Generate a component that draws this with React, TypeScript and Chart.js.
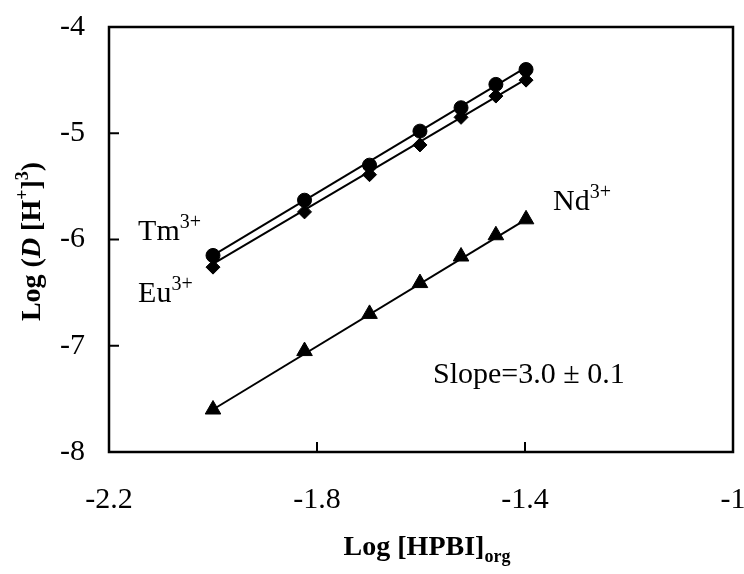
import React, { useEffect, useRef } from "react";
import { Chart, registerables } from "chart.js";

Chart.register(...registerables);

// Data
const xValues = [-2.0, -1.824, -1.699, -1.602, -1.523, -1.456, -1.398];
const tmValues = [-6.15, -5.63, -5.30, -4.98, -4.76, -4.54, -4.40];
const euValues = [-6.26, -5.74, -5.39, -5.11, -4.85, -4.65, -4.50];
const ndValues = [-7.60, -7.05, -6.70, -6.41, -6.16, -5.96, -5.81];

// Fitted straight lines (end points)
const fitX = [-2.0, -1.398];
const tmFit = [-6.15, -4.38];
const euFit = [-6.23, -4.49];
const ndFit = [-7.60, -5.81];

const xTicks = [-2.2, -1.8, -1.4, -1];
const yTicks = [-8, -7, -6, -5, -4];

const SERIF = '"Liberation Serif", "Times New Roman", serif';

type Part = { text: string; font: string; dy?: number };

function partsWidth(ctx: CanvasRenderingContext2D, parts: Part[]) {
  let w = 0;
  for (const p of parts) {
    ctx.font = p.font;
    w += ctx.measureText(p.text).width;
  }
  return w;
}

function drawParts(ctx: CanvasRenderingContext2D, parts: Part[], x: number, y: number) {
  let cx = x;
  for (const p of parts) {
    ctx.font = p.font;
    ctx.fillText(p.text, cx, y + (p.dy || 0));
    cx += ctx.measureText(p.text).width;
  }
}

const MAIN = `30px ${SERIF}`;
const SUP = `20px ${SERIF}`;

const labelAnnotations: { x: number; y: number; parts: Part[] }[] = [
  { x: -2.144, y: -6.0, parts: [{ text: "Tm", font: MAIN }, { text: "3+", font: SUP, dy: -12 }] },
  { x: -2.144, y: -6.59, parts: [{ text: "Eu", font: MAIN }, { text: "3+", font: SUP, dy: -12 }] },
  { x: -1.346, y: -5.72, parts: [{ text: "Nd", font: MAIN }, { text: "3+", font: SUP, dy: -12 }] },
  { x: -1.577, y: -7.35, parts: [{ text: "Slope=3.0 \u00b1 0.1", font: MAIN }] },
];

export default function App() {
  const ref = useRef<HTMLCanvasElement>(null);

  useEffect(() => {
    const canvas = ref.current;
    if (!canvas) return;
    const pts = (ys: number[]) => xValues.map((x, i) => ({ x, y: ys[i] }));
    const fit = (ys: number[]) => fitX.map((x, i) => ({ x, y: ys[i] }));

    const framePlugin = {
      id: "frame",
      afterDraw(chart: any) {
        const { ctx, chartArea, scales } = chart;
        const { left, right, top, bottom } = chartArea;
        const xs = scales.x;
        const ys = scales.y;
        ctx.save();
        ctx.strokeStyle = "#000";
        ctx.lineWidth = 2.5;
        ctx.strokeRect(left, top, right - left, bottom - top);
        ctx.lineWidth = 2;
        xTicks.forEach((v) => {
          const px = xs.getPixelForValue(v);
          ctx.beginPath();
          ctx.moveTo(px, bottom);
          ctx.lineTo(px, bottom - 10);
          ctx.stroke();
        });
        yTicks.forEach((v) => {
          const py = ys.getPixelForValue(v);
          ctx.beginPath();
          ctx.moveTo(left, py);
          ctx.lineTo(left + 10, py);
          ctx.stroke();
        });

        ctx.fillStyle = "#000";
        ctx.textBaseline = "alphabetic";
        ctx.textAlign = "left";
        labelAnnotations.forEach((a) => {
          drawParts(ctx, a.parts, xs.getPixelForValue(a.x), ys.getPixelForValue(a.y));
        });

        // X axis title
        const B = `bold 28px ${SERIF}`;
        const xParts: Part[] = [
          { text: "Log [HPBI]", font: B },
          { text: "org", font: `bold 18px ${SERIF}`, dy: 7 },
        ];
        const xw = partsWidth(ctx, xParts);
        drawParts(ctx, xParts, (left + right) / 2 + 6 - xw / 2, 555);

        // Y axis title (rotated)
        const yParts: Part[] = [
          { text: "Log (", font: B },
          { text: "D", font: `italic bold 28px ${SERIF}` },
          { text: " [H", font: B },
          { text: "+", font: `bold 18px ${SERIF}`, dy: -12 },
          { text: "]", font: B },
          { text: "3", font: `bold 18px ${SERIF}`, dy: -12 },
          { text: ")", font: B },
        ];
        const yw = partsWidth(ctx, yParts);
        ctx.translate(40, (top + bottom) / 2 + 2);
        ctx.rotate(-Math.PI / 2);
        drawParts(ctx, yParts, -yw / 2, 0);
        ctx.restore();
      },
    };

    const chart = new Chart(canvas, {
      type: "scatter",
      data: {
        datasets: [
          { label: "Tm fit", data: fit(tmFit), showLine: true, borderColor: "#000", borderWidth: 2, pointRadius: 0, order: 2 },
          { label: "Eu fit", data: fit(euFit), showLine: true, borderColor: "#000", borderWidth: 2, pointRadius: 0, order: 2 },
          { label: "Nd fit", data: fit(ndFit), showLine: true, borderColor: "#000", borderWidth: 2, pointRadius: 0, order: 2 },
          { label: "Tm3+", data: pts(tmValues), pointStyle: "circle", pointRadius: 7, backgroundColor: "#000", borderColor: "#000", borderWidth: 1, order: 1 },
          { label: "Eu3+", data: pts(euValues), pointStyle: "rectRot", pointRadius: 7, backgroundColor: "#000", borderColor: "#000", borderWidth: 1, order: 1 },
          { label: "Nd3+", data: pts(ndValues), pointStyle: "triangle", pointRadius: 9, backgroundColor: "#000", borderColor: "#000", borderWidth: 1, order: 1 },
        ],
      },
      options: {
        responsive: false,
        animation: false,
        layout: { padding: { left: 0, right: 11, top: 27, bottom: 0 } },
        plugins: { legend: { display: false }, tooltip: { enabled: false } },
        scales: {
          x: {
            type: "linear",
            min: -2.2,
            max: -1,
            grid: { display: false, drawTicks: false },
            border: { display: false },
            ticks: {
              stepSize: 0.4,
              padding: 30,
              color: "#000",
              font: { family: SERIF, size: 30 },
              maxRotation: 0,
              callback: (v: any) => String(Number(Number(v).toFixed(1))),
            },
            afterFit: (s: any) => {
              s.height = 122;
              s.paddingLeft = 0;
              s.paddingRight = 0;
            },
          },
          y: {
            type: "linear",
            min: -8,
            max: -4,
            grid: { display: false, drawTicks: false },
            border: { display: false },
            ticks: {
              stepSize: 1,
              padding: 24,
              color: "#000",
              font: { family: SERIF, size: 30 },
              callback: (v: any) => String(Number(Number(v).toFixed(1))),
            },
            afterFit: (s: any) => {
              s.width = 109;
              s.paddingTop = 0;
              s.paddingBottom = 0;
            },
          },
        },
      } as any,
      plugins: [framePlugin],
    });
    return () => chart.destroy();
  }, []);

  return (
    <div style={{ position: "absolute", left: 0, top: 0, width: 744, height: 574, background: "#fff" }}>
      <canvas ref={ref} width={744} height={574} style={{ display: "block" }} />
    </div>
  );
}
